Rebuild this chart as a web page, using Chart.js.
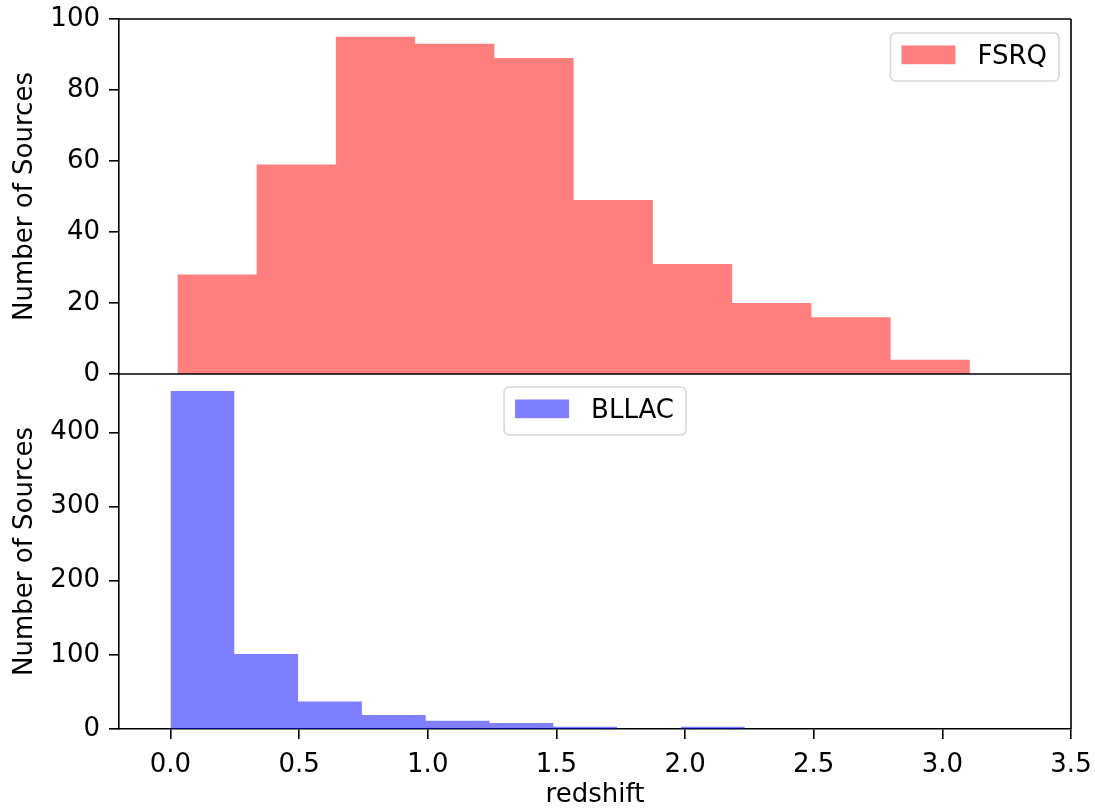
<!DOCTYPE html>
<html><head><meta charset="utf-8">
<script src="https://cdn.jsdelivr.net/npm/chart.js@4/dist/chart.umd.min.js"></script>
<style>html,body{margin:0;padding:0;background:#fff;}#wrap{width:1095px;height:808px;position:relative;}</style>
</head><body><div id="wrap"><canvas id="c" width="1095" height="808"></canvas></div>
<script>
// ---- data ----
const fsrqEdges = [0.027, 0.335, 0.643, 0.951, 1.259, 1.567, 1.875, 2.183, 2.491, 2.799, 3.107];
const fsrqCounts = [28, 59, 95, 93, 89, 49, 31, 20, 16, 4];
const bllacEdges = [0.0, 0.248, 0.496, 0.744, 0.992, 1.240, 1.488, 1.736, 1.984, 2.232];
const bllacCounts = [456, 101, 37, 19, 11, 8, 3, 0, 3];
const xTicks = [0.0, 0.5, 1.0, 1.5, 2.0, 2.5, 3.0, 3.5];
const fsrqTicks = [0, 20, 40, 60, 80, 100];
const bllacTicks = [0, 100, 200, 300, 400];
const seriesNames = ['FSRQ', 'BLLAC'];

const FONT = 'DejaVu Sans';
const FS = 26;

function histPoints(edges, counts) {
  const pts = counts.map((c, i) => ({x: edges[i], y: c}));
  pts.push({x: edges[edges.length - 1], y: counts[counts.length - 1]});
  return pts;
}

function yAxis(min, max, ticks) {
  return {
    type: 'linear', position: 'left', stack: 'panels', stackWeight: 1, z: 1,
    min: min, max: max,
    afterBuildTicks: s => { s.ticks = ticks.map(v => ({value: v})); },
    ticks: {font: {family: FONT, size: FS, lineHeight: 0.75}, color: '#000', padding: 9, callback: v => String(v)},
    grid: {drawOnChartArea: false, drawTicks: true, tickLength: 10, lineWidth: 1.6, color: '#000'},
    border: {display: true, color: '#000', width: 1.6},
    title: {display: true, text: 'Number of Sources', color: '#000', font: {family: FONT, size: FS, lineHeight: 1.2}, padding: {top: 10, bottom: 0}},
    afterFit: s => { s.width = 119; }
  };
}

function legendWidth(ctx, label) {
  ctx.save();
  ctx.font = FS + 'px "' + FONT + '"';
  const tw = ctx.measureText(label).width;
  ctx.restore();
  return 11 + 54 + 22 + tw + 12;
}

function drawLegend(ctx, x, y, color, label) {
  const w = legendWidth(ctx, label), h = 48;
  ctx.save();
  ctx.font = FS + 'px "' + FONT + '"';
  ctx.beginPath();
  if (ctx.roundRect) ctx.roundRect(x, y, w, h, 5); else ctx.rect(x, y, w, h);
  ctx.fillStyle = 'rgba(255,255,255,0.8)';
  ctx.fill();
  ctx.lineWidth = 1.6;
  ctx.strokeStyle = '#d8d8d8';
  ctx.stroke();
  ctx.fillStyle = color;
  ctx.fillRect(x + 11, y + 12.5, 54, 18.7);
  ctx.fillStyle = '#000';
  ctx.textBaseline = 'alphabetic';
  ctx.textAlign = 'left';
  ctx.fillText(label, x + 11 + 54 + 22, y + 30.5);
  ctx.restore();
}

const framePlugin = {
  id: 'frame',
  afterDraw(chart) {
    const ctx = chart.ctx, a = chart.chartArea;
    const yT = chart.scales.yT, yB = chart.scales.yB;
    ctx.save();
    ctx.strokeStyle = '#000';
    ctx.lineWidth = 1.6;
    ctx.beginPath();
    ctx.moveTo(a.left, a.top); ctx.lineTo(a.right, a.top);
    ctx.moveTo(a.right, a.top); ctx.lineTo(a.right, a.bottom);
    ctx.moveTo(a.left, yT.bottom); ctx.lineTo(a.right, yT.bottom);
    ctx.stroke();
    ctx.restore();
    const w1 = legendWidth(ctx, seriesNames[0]);
    const w2 = legendWidth(ctx, seriesNames[1]);
    drawLegend(ctx, a.right - 12 - w1, yT.top + 14, 'rgba(255,0,0,0.5)', seriesNames[0]);
    drawLegend(ctx, (a.left + a.right) / 2 - w2 / 2, yB.top + 13, 'rgba(0,0,255,0.5)', seriesNames[1]);
  }
};

new Chart(document.getElementById('c'), {
  type: 'line',
  data: {
    datasets: [
      {label: seriesNames[1], data: histPoints(bllacEdges, bllacCounts), yAxisID: 'yB', stepped: 'before', fill: 'origin',
       backgroundColor: 'rgba(0,0,255,0.5)', borderWidth: 0, borderColor: 'rgba(0,0,0,0)', pointRadius: 0},
      {label: seriesNames[0], data: histPoints(fsrqEdges, fsrqCounts), yAxisID: 'yT', stepped: 'before', fill: 'origin',
       backgroundColor: 'rgba(255,0,0,0.5)', borderWidth: 0, borderColor: 'rgba(0,0,0,0)', pointRadius: 0}
    ]
  },
  options: {
    responsive: false, animation: false, devicePixelRatio: 1,
    layout: {padding: {top: 19, right: 24, bottom: 0, left: 0}},
    plugins: {legend: {display: false}, tooltip: {enabled: false}},
    scales: {
      x: {
        type: 'linear', position: 'bottom', min: -0.2, max: 3.5, z: 1,
        afterBuildTicks: s => { s.ticks = xTicks.map(v => ({value: v})); },
        ticks: {font: {family: FONT, size: FS, lineHeight: 1.8}, color: '#000', padding: 3, maxRotation: 0, autoSkip: false, callback: v => Number(v).toFixed(1)},
        grid: {drawOnChartArea: false, drawTicks: true, tickLength: 10, lineWidth: 1.6, color: '#000'},
        border: {display: true, color: '#000', width: 1.6},
        title: {display: true, text: 'redshift', color: '#000', font: {family: FONT, size: FS, lineHeight: 1.0}, padding: {top: 0, bottom: 0}},
        afterFit: s => { s.height = 79; }
      },
      yB: yAxis(0, 478.8, bllacTicks),
      yT: yAxis(0, 100, fsrqTicks)
    }
  },
  plugins: [framePlugin]
});
</script></body></html>
